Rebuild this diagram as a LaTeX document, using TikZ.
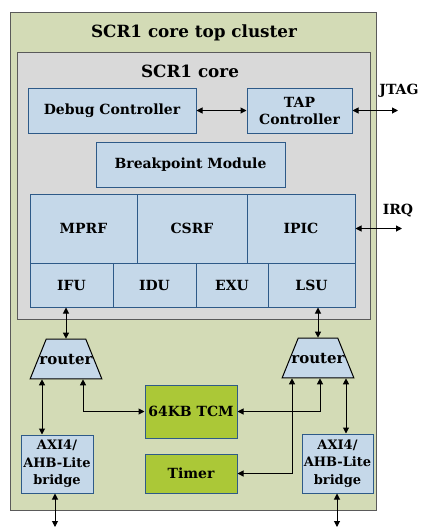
\documentclass[tikz,border=0pt]{standalone}
\usepackage{fontspec}
\setmainfont{DejaVu Serif}
\usetikzlibrary{arrows.meta,shapes.geometric,calc}

\definecolor{clusterfill}{HTML}{D3DBB6}
\definecolor{clusterline}{HTML}{5A5A5A}
\definecolor{corefill}{HTML}{D9D9D9}
\definecolor{blkfill}{HTML}{C5D8E9}
\definecolor{blkline}{HTML}{2E5A88}
\definecolor{grnfill}{HTML}{ABC837}

\tikzset{
  blk/.style={draw=blkline,fill=blkfill,line width=1pt,inner sep=0pt,align=center,
    font=\bfseries\fontsize{14}{17}\selectfont},
  grnblk/.style={blk,fill=grnfill},
  router/.style={draw=black,fill=blkfill,line width=1pt,inner sep=2pt,trapezium,
    trapezium angle=68,minimum width=72pt,minimum height=34pt,
    label={[font=\bfseries\fontsize{15}{17}\selectfont]center:router}},
  link/.style={<->,line width=1pt,>={Triangle[length=6pt,width=6pt]}}
}

\begin{document}
\begin{tikzpicture}[x=1pt,y=-1pt]
  \useasboundingbox (0,0) rectangle (426,531);
  % Cluster and core frames
  \node[draw=clusterline,fill=clusterfill,line width=1pt,minimum width=366pt,minimum height=498pt] (cluster) at (193,261) {};
  \node[font=\bfseries\fontsize{16.8}{20}\selectfont] (clustertitle) at (194,33) {SCR1 core top cluster};
  \node[draw=clusterline,fill=corefill,line width=1pt,minimum width=353pt,minimum height=267pt] (core) at (193.5,185.5) {};
  \node[font=\bfseries\fontsize{16.8}{20}\selectfont] (coretitle) at (190,71) {SCR1 core};
  % Debug blocks
  \node[blk,minimum width=168pt,minimum height=45pt] (dbg) at (112,110.5) {Debug Controller};
  \node[blk,minimum width=105pt,minimum height=45pt] (tap) at (299.5,110.5) {TAP\\Controller};
  \node[blk,minimum width=189pt,minimum height=45pt] (bpm) at (190.5,164.5) {Breakpoint Module};
  % Register files and pipeline
  \node[blk,minimum width=107pt,minimum height=69pt] (mprf) at (83.5,228.5) {MPRF};
  \node[blk,minimum width=110pt,minimum height=69pt] (csrf) at (192,228.5) {CSRF};
  \node[blk,minimum width=108pt,minimum height=69pt] (ipic) at (301,228.5) {IPIC};
  \node[blk,minimum width=83pt,minimum height=44pt] (ifu) at (71.5,285) {IFU};
  \node[blk,minimum width=83pt,minimum height=44pt] (idu) at (154.5,285) {IDU};
  \node[blk,minimum width=72pt,minimum height=44pt] (exu) at (232,285) {EXU};
  \node[blk,minimum width=87pt,minimum height=44pt] (lsu) at (311.5,285) {LSU};
  % Routers, memory and bridges
  \node[router] (rtl) at (66,359) {};
  \node[router] (rtr) at (318,358) {};
  \node[grnblk,minimum width=92pt,minimum height=53pt] (tcm) at (191,411.5) {64KB TCM};
  \node[grnblk,minimum width=92pt,minimum height=39pt] (timer) at (191,473.5) {Timer};
  \node[blk,font=\bfseries\fontsize{13}{17.5}\selectfont,minimum width=72pt,minimum height=58pt] (brl) at (57,464) {AXI4/\\AHB-Lite\\bridge};
  \node[blk,font=\bfseries\fontsize{13}{17.5}\selectfont,minimum width=71pt,minimum height=59pt] (brr) at (337.5,463.5) {AXI4/\\AHB-Lite\\bridge};
  % External ports
  \node[font=\bfseries\fontsize{14}{16}\selectfont] (jtag) at (399,91) {JTAG};
  \node[font=\bfseries\fontsize{14}{16}\selectfont] (irq) at (398,211) {IRQ};
  \coordinate (jtagend) at (398,110.5);
  \coordinate (irqend) at (402,228.5);
  \coordinate (brlend) at (55,527);
  \coordinate (brrend) at (337,527);
  % Router ports
  \coordinate (rtlbr) at ($(rtl.south)+(-24,0)$);
  \coordinate (rtltcm) at ($(rtl.south)+(17,0)$);
  \coordinate (rtrtcm) at ($(rtr.south)+(2,0)$);
  \coordinate (rtrtimer) at ($(rtr.south)+(-26,0)$);
  \coordinate (rtrbr) at ($(rtr.south)+(28,0)$);
  % Connections
  \draw[link] (dbg) -- (tap);
  \draw[link] (tap.east) -- (jtagend);
  \draw[link] (ipic.east) -- (irqend);
  \draw[link] (rtl.north |- ifu.south) -- (rtl.north);
  \draw[link] (rtr.north |- lsu.south) -- (rtr.north);
  \draw[link] (rtlbr) -- (rtlbr |- brl.north);
  \draw[link] (rtltcm) |- (tcm.west);
  \draw[link] (tcm.east) -| (rtrtcm);
  \draw[link] (timer.east) -| (rtrtimer);
  \draw[link] (rtrbr) -- (rtrbr |- brr.north);
  \draw[link] (brl.south -| brlend) -- (brlend);
  \draw[link] (brr.south -| brrend) -- (brrend);
\end{tikzpicture}
\end{document}
